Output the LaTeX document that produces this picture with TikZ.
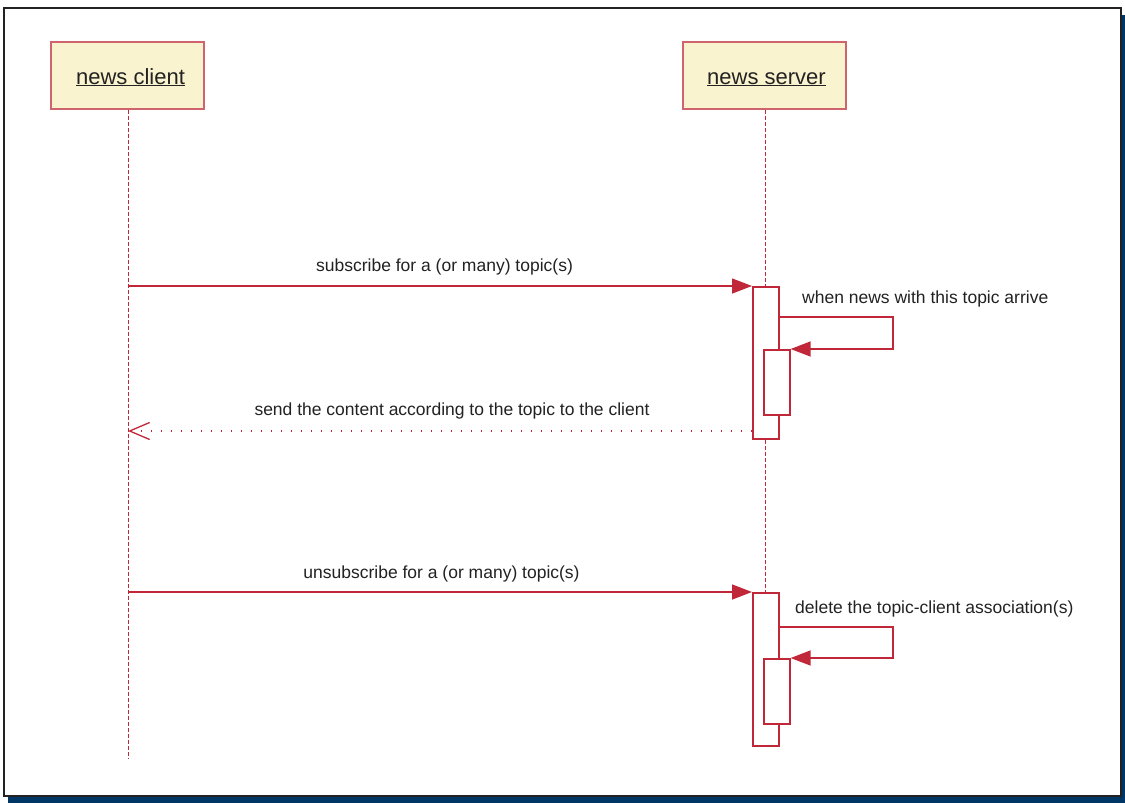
\documentclass[tikz,border=0pt]{standalone}
\usepackage{fontspec}
\setmainfont{Liberation Sans}
\usetikzlibrary{arrows.meta}
\definecolor{seqred}{RGB}{192,40,58}
\definecolor{boxedge}{RGB}{208,100,108}
\definecolor{boxfill}{RGB}{250,243,207}
\definecolor{navyshade}{RGB}{0,54,102}
\definecolor{ink}{RGB}{34,34,34}
\tikzset{
  objbox/.style={draw=boxedge, line width=1.2pt, fill=boxfill, minimum width=153pt,
    minimum height=67pt, inner sep=0pt},
  objname/.style={text=ink, font=\fontsize{22}{26}\selectfont, inner sep=0pt, anchor=base},
  lifeline/.style={draw=seqred, line width=1pt, dash pattern=on 4pt off 2pt},
  actbox/.style={draw=seqred, line width=1.6pt, fill=white, minimum width=26pt,
    inner sep=0pt, anchor=north west},
  msgline/.style={draw=seqred, line width=1.4pt, -{Triangle[length=20pt,width=15pt]}},
  retline/.style={draw=seqred, line width=1.6pt, dash pattern=on 1.5pt off 8.5pt,
    -{Straight Barb[length=20pt,width=17pt,line width=1.3pt]}},
  msglabel/.style={text=ink, font=\fontsize{17.5}{21}\selectfont, inner sep=0pt}
}
\begin{document}
\begin{tikzpicture}[x=1pt,y=-1pt]
  \useasboundingbox (0,0) rectangle (1125,803);
  % frame with drop shadow
  \fill[navyshade] (8,15) rectangle (1125,803);
  \filldraw[fill=white, draw=ink, line width=1.6pt] (4,8) rectangle (1121,796);

  % participants
  \node[objbox] (client) at (127.5,75.5) {};
  \node[objbox, minimum width=163pt] (server) at (764.5,75.5) {};
  \node[objname] (clientname) at (130.5,84) {\underline{news client}};
  \node[objname] (servername) at (766.5,84) {\underline{news server}};

  % lifelines
  \coordinate (clientend) at (128,758);
  \coordinate (serverend) at (765,745);
  \draw[lifeline] (client.south -| 128,0) -- (clientend);
  \draw[lifeline] (server.south -| 765,0) -- (serverend);

  % first exchange
  \node[actbox, minimum height=152pt] (act1) at (752,286) {};
  \node[actbox, minimum height=65pt] (act1b) at (763,349) {};
  \coordinate (m1) at (128,286);
  \draw[msgline] (m1) -- (act1.north west);
  \node[msglabel] (l1) at (444.5,267) {subscribe for a (or many) topic(s)};

  \coordinate (s1) at (778,317);
  \coordinate (s1turn) at (893,317);
  \draw[msgline] (s1) -- (s1turn) |- (act1b.north east);
  \node[msglabel, anchor=west] (l2) at (802,299) {when news with this topic arrive};

  \coordinate (r1) at (752,431);
  \coordinate (r1end) at (128,431);
  \draw[retline] (r1) -- (r1end);
  \node[msglabel] (l3) at (452,411) {send the content according to the topic to the client};

  % second exchange
  \node[actbox, minimum height=153pt] (act2) at (752,592) {};
  \node[actbox, minimum height=65pt] (act2b) at (763,658) {};
  \coordinate (m2) at (128,592);
  \draw[msgline] (m2) -- (act2.north west);
  \node[msglabel] (l4) at (441.5,574) {unsubscribe for a (or many) topic(s)};

  \coordinate (s2) at (778,627);
  \coordinate (s2turn) at (893,627);
  \draw[msgline] (s2) -- (s2turn) |- (act2b.north east);
  \node[msglabel, anchor=west] (l5) at (795,609) {delete the topic-client association(s)};
\end{tikzpicture}
\end{document}
